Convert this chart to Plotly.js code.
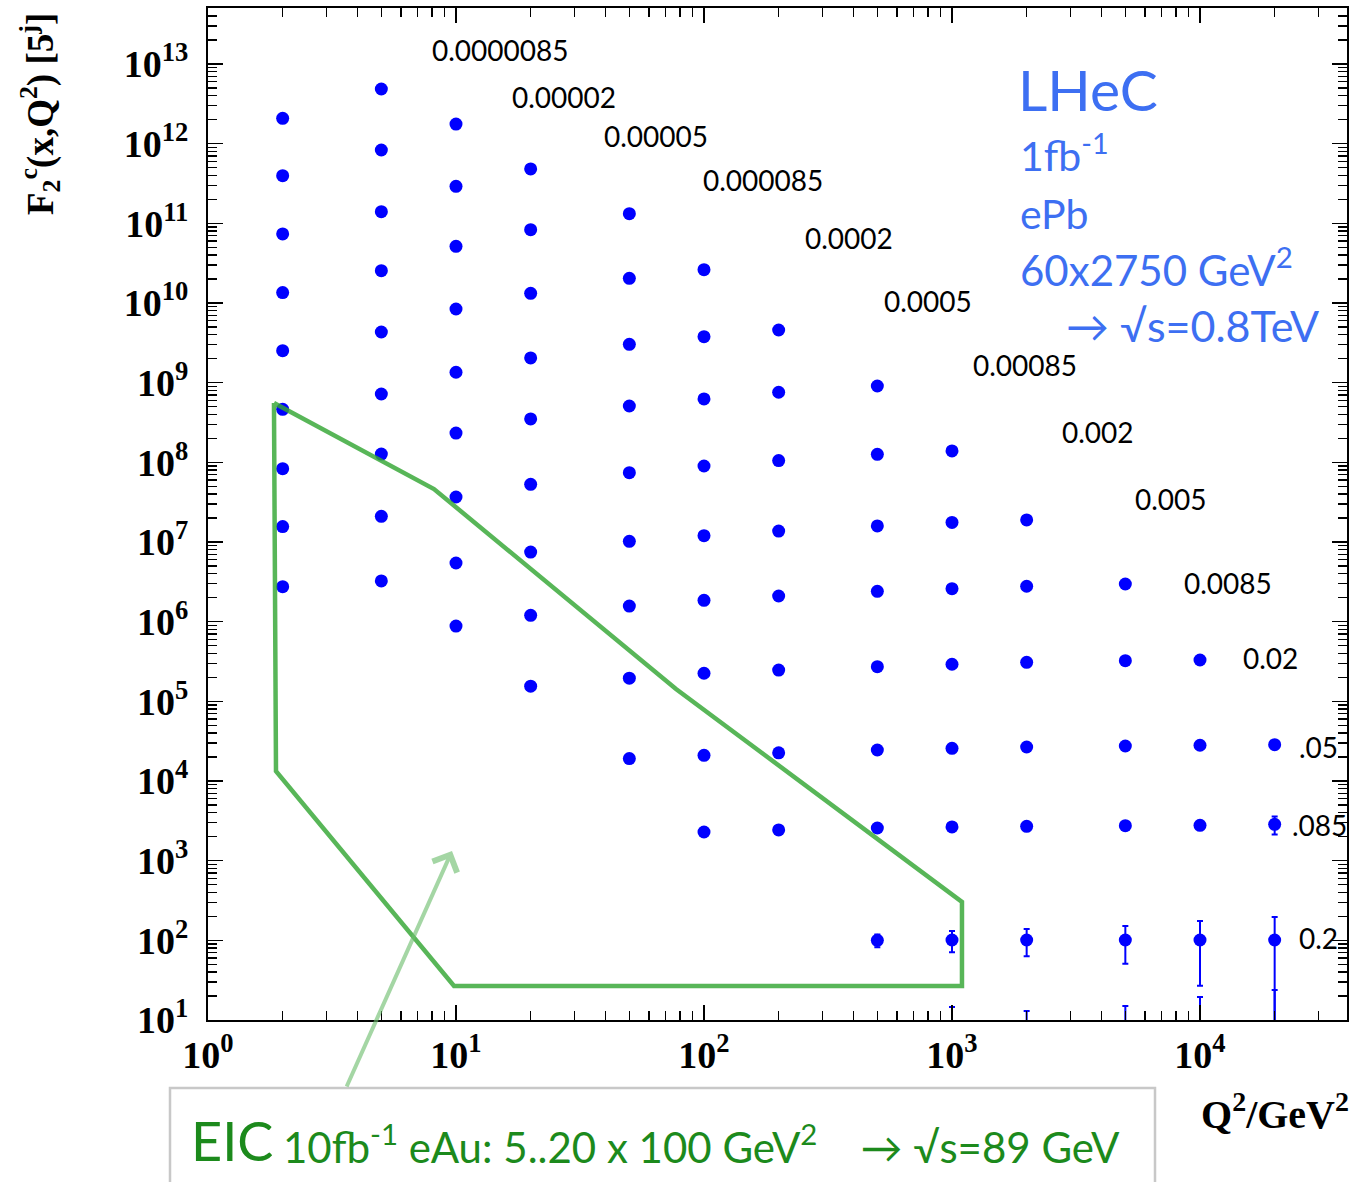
<!DOCTYPE html>
<html>
<head>
<meta charset="utf-8">
<script src="https://cdn.plot.ly/plotly-3.0.1.min.js"></script>
<style>html,body{margin:0;padding:0;background:#fff;}#chart{width:1353px;height:1182px;}</style>
</head>
<body>
<div id="chart"></div>
<script>
// ---------------- data ----------------
const xBinLabels = ['0.0000085','0.00002','0.00005','0.000085','0.0002','0.0005','0.00085','0.002','0.005','0.0085','0.02','.05','.085','0.2'];

const q2_r0  = [2, 5];
const f2_r0  = [2.08e12, 4.85e12];
const q2_r1  = [2, 5, 10];
const f2_r1  = [3.96e11, 8.32e11, 1.76e12];
const q2_r2  = [2, 5, 10, 20];
const f2_r2  = [7.35e10, 1.40e11, 2.91e11, 4.81e11];
const q2_r3  = [2, 5, 10, 20, 50];
const f2_r3  = [1.35e10, 2.54e10, 5.14e10, 8.32e10, 1.32e11];
const q2_r4  = [2, 5, 10, 20, 50, 100];
const f2_r4  = [2.52e9, 4.32e9, 8.40e9, 1.32e10, 2.04e10, 2.62e10];
const q2_r5  = [2, 5, 10, 20, 50, 100, 200];
const f2_r5  = [4.63e8, 7.20e8, 1.35e9, 2.04e9, 3.03e9, 3.78e9, 4.58e9];
const q2_r6  = [2, 5, 10, 20, 50, 100, 200, 500];
const f2_r6  = [8.32e7, 1.27e8, 2.33e8, 3.50e8, 5.09e8, 6.24e8, 7.57e8, 9.08e8];
const q2_r7  = [2, 5, 10, 20, 50, 100, 200, 500, 1000];
const f2_r7  = [1.56e7, 2.10e7, 3.67e7, 5.30e7, 7.41e7, 8.99e7, 1.05e8, 1.26e8, 1.39e8];
const q2_r8  = [2, 5, 10, 20, 50, 100, 200, 500, 1000, 2000];
const f2_r8  = [2.75e6, 3.24e6, 5.45e6, 7.48e6, 1.02e7, 1.20e7, 1.37e7, 1.59e7, 1.76e7, 1.89e7];
const q2_r9  = [10, 20, 50, 100, 200, 500, 1000, 2000, 5000];
const f2_r9  = [8.81e5, 1.20e6, 1.57e6, 1.85e6, 2.10e6, 2.40e6, 2.59e6, 2.78e6, 2.97e6];
const q2_r10 = [20, 50, 100, 200, 500, 1000, 2000, 5000, 10000];
const f2_r10 = [1.55e5, 1.95e5, 2.25e5, 2.47e5, 2.72e5, 2.92e5, 3.09e5, 3.24e5, 3.30e5];
const q2_r11 = [50, 100, 200, 500, 1000, 2000, 5000, 10000, 20000];
const f2_r11 = [1.91e4, 2.10e4, 2.26e4, 2.45e4, 2.57e4, 2.67e4, 2.75e4, 2.81e4, 2.86e4];
const q2_r12 = [100, 200, 500, 1000, 2000, 5000, 10000, 20000];
const f2_r12 = [2.29e3, 2.43e3, 2.57e3, 2.65e3, 2.70e3, 2.75e3, 2.78e3, 2.86e3];
const err_r12 = [0, 0, 0, 0, 0, 0, 0, 730];
const q2_r13 = [500, 1000, 2000, 5000, 10000, 20000];
const f2_r13 = [100, 101, 101, 101, 101, 101];
const err_r13 = [18, 30, 38, 50, 74, 95];
// row below the visible range: only its upper error bars reach into the frame
const q2_r14 = [1000, 2000, 5000, 10000, 20000];
const f2_r14 = [3, 3, 3, 3, 3];
const err_r14 = [11.6, 10, 12, 16.5, 20.8];

// EIC acceptance outline (Q2, F2 scaled)
const eicQ2 = [1.845, 8.15, 77.1, 1097, 1097, 9.82, 1.88, 1.845];
const eicF2 = [5.55e8, 4.62e7, 1.43e5, 303, 26.7, 26.7, 1.33e4, 5.55e8];

const xTickVals = [1, 10, 100, 1000, 10000];
const xTickText = ['10<sup>0</sup>','10<sup>1</sup>','10<sup>2</sup>','10<sup>3</sup>','10<sup>4</sup>'];
const yTickExp = [1,2,3,4,5,6,7,8,9,10,11,12,13];

// ---------------- build ----------------
const W = 1353, H = 1182;
const L = 208, R = 1347, T = 8, B = 1020;
const px = x => (x - L) / (R - L);
const py = y => (B - y) / (B - T);

const rows = [
  [q2_r0, f2_r0], [q2_r1, f2_r1], [q2_r2, f2_r2], [q2_r3, f2_r3], [q2_r4, f2_r4],
  [q2_r5, f2_r5], [q2_r6, f2_r6], [q2_r7, f2_r7], [q2_r8, f2_r8], [q2_r9, f2_r9],
  [q2_r10, f2_r10], [q2_r11, f2_r11], [q2_r12, f2_r12, err_r12], [q2_r13, f2_r13, err_r13],
  [q2_r14, f2_r14, err_r14]
];

const blue = '#0000ff';
const traces = rows.map((r, i) => {
  const t = {
    x: r[0], y: r[1], type: 'scatter', mode: 'markers',
    name: i < xBinLabels.length ? 'x=' + xBinLabels[i] : 'x',
    marker: {color: blue, size: 13},
    showlegend: false, hoverinfo: 'x+y'
  };
  if (r[2]) t.error_y = {type: 'data', array: r[2], symmetric: true, color: blue, thickness: 2, width: 3};
  return t;
});
traces.push({
  x: eicQ2, y: eicF2, type: 'scatter', mode: 'lines',
  line: {color: 'rgba(51,166,51,0.82)', width: 4.5},
  showlegend: false, hoverinfo: 'skip'
});

const minorVals = (lo, hi) => {
  const v = [];
  for (let e = lo; e <= hi; e++) for (let d = 2; d <= 9; d++) v.push(d * Math.pow(10, e));
  return v;
};

const tickFont = {family: 'Liberation Serif, Times New Roman, serif', size: 38, color: '#000', weight: 'bold'};
const axisCommon = {
  type: 'log', showgrid: false, zeroline: false,
  showline: true, linecolor: '#000', linewidth: 2, mirror: 'allticks',
  ticks: 'inside', ticklen: 15, tickwidth: 1.5, tickcolor: '#000',
  tickmode: 'array', tickfont: tickFont
};

const lab = (text, x, y, size, color, extra) => Object.assign({
  text: text, xref: 'paper', yref: 'paper', x: px(x), y: py(y),
  xanchor: 'left', yanchor: 'middle', showarrow: false,
  font: {family: 'Lato, Open Sans, sans-serif', size: size, color: color}
}, extra || {});

const rowLabelPos = [
  [430, 50], [510, 97], [602, 136], [701, 180], [803, 238], [882, 301], [971, 365],
  [1060, 432], [1133, 499], [1182, 583], [1241, 658], [1297, 747], [1290, 825], [1297, 938]
];
const annotations = xBinLabels.map((t, i) => lab(t, rowLabelPos[i][0], rowLabelPos[i][1], 28, '#000'));

const lblue = '#3d6ff2';
annotations.push(lab('LHeC', 1016, 89, 57, lblue));
annotations.push(lab('1fb<sup>-1</sup>', 1018, 153, 41, lblue));
annotations.push(lab('ePb', 1018, 213, 41, lblue));
annotations.push(lab('60x2750 GeV<sup>2</sup>', 1018, 267, 42, lblue));
annotations.push(lab('\u2192 \u221As=0.8TeV', 1064, 326, 43, lblue));

const green = '#1c8a1c';
annotations.push(lab('EIC', 189, 1140, 54, green));
annotations.push(lab('10fb<sup>-1</sup> eAu: 5..20 x 100 GeV<sup>2</sup>\u00a0\u00a0\u00a0 \u2192 \u221As=89 GeV', 281, 1144, 42, green));

const serifBold = {family: 'Liberation Serif, Times New Roman, serif', size: 37, color: '#000', weight: 'bold'};
annotations.push({
  text: 'F<sub>2</sub><sup>c</sup>(x,Q<sup>2</sup>) [5<sup>j</sup>]',
  xref: 'paper', yref: 'paper', x: px(40), y: py(114), xanchor: 'center', yanchor: 'middle',
  textangle: -90, showarrow: false, font: serifBold
});
annotations.push({
  text: 'Q<sup>2</sup>/GeV<sup>2</sup>',
  xref: 'paper', yref: 'paper', x: px(1351), y: py(1111), xanchor: 'right', yanchor: 'middle',
  showarrow: false, font: Object.assign({}, serifBold, {size: 40})
});
// arrow from EIC box to the outline
annotations.push({
  text: '', xref: 'paper', yref: 'paper', x: px(452), y: py(851),
  axref: 'pixel', ayref: 'pixel', ax: -106, ay: 237,
  showarrow: true, arrowhead: 4, arrowsize: 1.3, arrowwidth: 4,
  arrowcolor: 'rgba(110,190,110,0.62)'
});

const layout = {
  width: W, height: H,
  margin: {l: L, r: W - R, t: T, b: H - B, pad: 0},
  paper_bgcolor: '#fff', plot_bgcolor: '#fff',
  showlegend: false,
  xaxis: Object.assign({}, axisCommon, {
    range: [0, (R - L) / 248],
    tickvals: xTickVals, ticktext: xTickText,
    minor: {tickmode: 'array', tickvals: minorVals(0, 4), ticks: 'inside', ticklen: 9, tickwidth: 1.5, tickcolor: '#000', showgrid: false}
  }),
  yaxis: Object.assign({}, axisCommon, {
    range: [1, 1 + (B - T) / 79.67],
    tickvals: yTickExp.map(e => Math.pow(10, e)),
    ticktext: yTickExp.map(e => '10<sup>' + e + '</sup>'),
    ticklabelstandoff: 10,
    minor: {tickmode: 'array', tickvals: minorVals(1, 13), ticks: 'inside', ticklen: 9, tickwidth: 1.5, tickcolor: '#000', showgrid: false}
  }),
  shapes: [{
    type: 'rect', xref: 'paper', yref: 'paper',
    x0: px(170), x1: px(1155), y0: py(1088), y1: py(1200),
    line: {color: '#c8c8c8', width: 2.5}, fillcolor: 'rgba(0,0,0,0)', layer: 'above'
  }],
  annotations: annotations
};

Plotly.newPlot('chart', traces, layout, {displayModeBar: false, staticPlot: true});
</script>
</body>
</html>
